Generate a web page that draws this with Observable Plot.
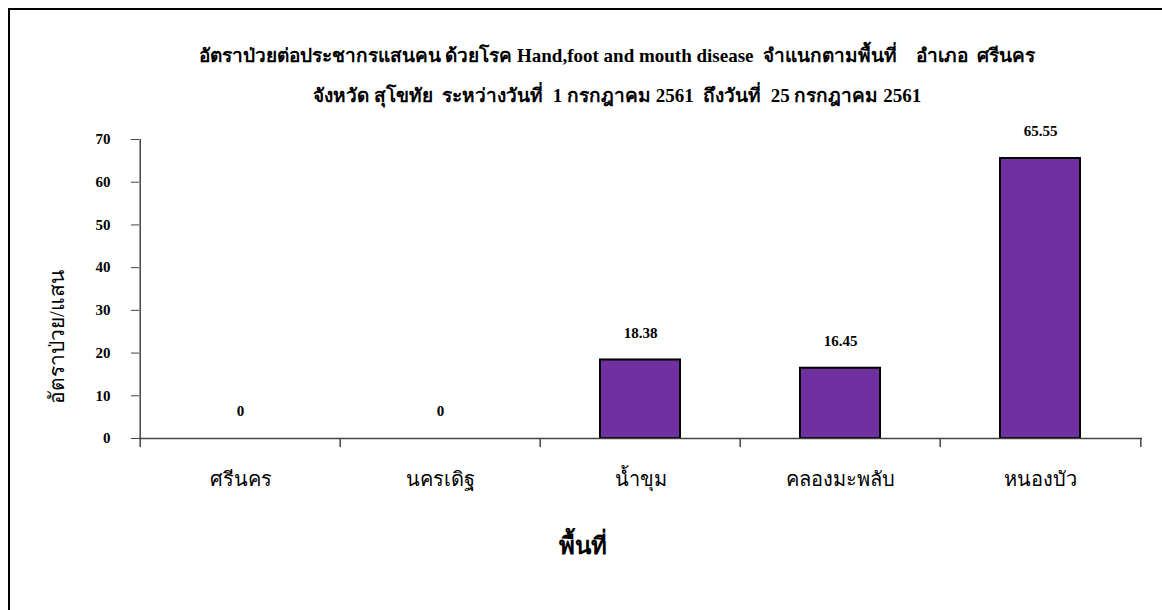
<!DOCTYPE html>
<html>
<head>
<meta charset="utf-8">
<script src="https://cdn.jsdelivr.net/npm/d3@7"></script>
<script src="https://cdn.jsdelivr.net/npm/@observablehq/plot@0.6"></script>
<style>
  html, body { margin: 0; padding: 0; background: #fff; }
  #page { position: relative; width: 1162px; height: 610px; overflow: hidden; background: #fff; }
  #frame { position: absolute; left: 8px; top: 8px; right: -10px; bottom: -10px; border-left: 2px solid #000; border-top: 2px solid #000; }
  .title { position: absolute; left: 0; width: 1234px; text-align: center; font-family: "Liberation Serif", "Noto Sans", serif; font-weight: bold; font-size: 19px; line-height: 22px; color: #000; white-space: pre; }
  #t1 { top: 45px; }
  #t2 { top: 85px; }
  #chart { position: absolute; left: 0; top: 120px; }
</style>
</head>
<body>
<div id="page">
  <div id="frame"></div>
  <div class="title" id="t1"></div>
  <div class="title" id="t2"></div>
  <div id="chart"></div>
</div>
<script>
const titleLines = [
  "อัตราป่วยต่อประชากรแสนคน ด้วยโรค Hand,foot and mouth disease  จำแนกตามพื้นที่    อำเภอ  ศรีนคร",
  "จังหวัด สุโขทัย  ระหว่างวันที่  1 กรกฎาคม 2561  ถึงวันที่  25 กรกฎาคม 2561"
];
const areas = ["ศรีนคร", "นครเดิฐ", "น้ำขุม", "คลองมะพลับ", "หนองบัว"];
const rates = [0, 0, 18.38, 16.45, 65.55];
const yTicks = [0, 10, 20, 30, 40, 50, 60, 70];
const yLabel = "อัตราป่วย/แสน";
const xLabel = "พื้นที่";

document.getElementById("t1").textContent = titleLines[0];
document.getElementById("t2").textContent = titleLines[1];

const data = areas.map((a, i) => ({area: a, rate: rates[i]}));

const W = 1162, H = 490, mL = 139, mR = 20, mT = 19, mB = 172;
const step = (W - mL - mR) / areas.length;
const font = "'Liberation Serif', 'Noto Sans', serif";

const chart = Plot.plot({
  width: W,
  height: H,
  marginLeft: mL,
  marginRight: mR,
  marginTop: mT,
  marginBottom: mB,
  style: {fontFamily: font, background: "transparent", overflow: "visible"},
  x: {domain: areas, paddingInner: 0.6, paddingOuter: 0.3, axis: null},
  y: {domain: [0, 70], axis: null},
  marks: [
    Plot.barY(data, {x: "area", y: "rate", fill: "#7030A0", stroke: "#000", strokeWidth: 2}),
    Plot.ruleY([0], {stroke: "#444", strokeWidth: 1.5}),
    Plot.ruleX([areas[0]], {x: d => d, dx: -step / 2, y1: -2.1, y2: 70, stroke: "#444", strokeWidth: 1.5}),
    Plot.ruleX(areas.slice(1), {x: d => d, dx: -step / 2, y1: -2.1, y2: 0, stroke: "#444", strokeWidth: 1.5}),
    Plot.ruleX([areas[areas.length - 1]], {x: d => d, dx: step / 2, y1: -2.1, y2: 0, stroke: "#444", strokeWidth: 1.5}),
    Plot.axisY({ticks: yTicks, tickSize: 8, tickPadding: 21, fontSize: 15, fontWeight: "bold", fill: "#000", stroke: "#444", label: null}),
    Plot.axisX({tickSize: 0, tickPadding: 33, fontSize: 20, fill: "#000", label: null}),
    Plot.text(data, {x: "area", y: "rate", text: d => String(d.rate), dy: -27, fontSize: 15, fontWeight: "bold", fill: "#000"}),
    Plot.text([yLabel], {frameAnchor: "left", textAnchor: "middle", text: d => d, rotate: -90, dx: -82, dy: 48, fontSize: 21, fill: "#000"}),
    Plot.text([xLabel], {frameAnchor: "bottom", text: d => d, dx: -58, dy: 115, fontSize: 24, fontWeight: "bold", fill: "#000"})
  ]
});
document.getElementById("chart").appendChild(chart);
</script>
</body>
</html>
